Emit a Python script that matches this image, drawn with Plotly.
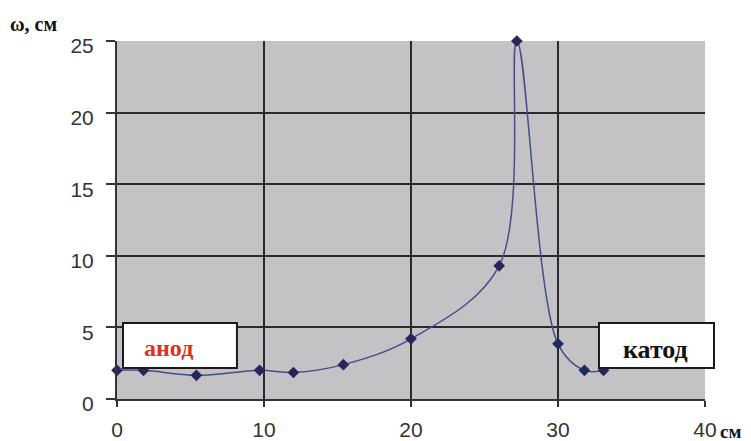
import plotly.graph_objects as go

# distance along electrode, cm
x_cm = [0, 1.8, 5.4, 9.7, 12.0, 15.4, 20.0, 26.0, 27.2, 30.0, 31.8, 33.1]
# omega, cm
omega = [2.0, 2.0, 1.65, 2.0, 1.85, 2.4, 4.2, 9.3, 25.0, 3.85, 2.0, 2.0]

x_ticks = [0, 10, 20, 30, 40]
y_ticks = [0, 5, 10, 15, 20, 25]

fig = go.Figure()
fig.add_trace(go.Scatter(
    x=x_cm, y=omega, mode="lines+markers",
    line=dict(color="#4b4b8c", width=1.5, shape="spline", smoothing=1.0),
    marker=dict(symbol="diamond", size=9, color="#26265e"),
    cliponaxis=False, showlegend=False,
))

fig.update_layout(
    width=751, height=441,
    margin=dict(l=117, r=46, t=41, b=42),
    paper_bgcolor="white", plot_bgcolor="#c3c3c6",
    font=dict(family="Liberation Sans, Arial", size=21, color="#333333"),
)
fig.update_xaxes(
    range=[0, 40], tickvals=x_ticks, showgrid=True, gridcolor="#2a2a2a", gridwidth=1.5,
    zeroline=False, showline=True, linecolor="#333333", linewidth=2, automargin=False,
    ticks="outside", ticklen=6, tickwidth=1.5, tickcolor="#333333",
    ticklabelstandoff=5, tickfont=dict(size=21, color="#333333"),
)
fig.update_yaxes(
    range=[0, 25], tickvals=y_ticks, showgrid=True, gridcolor="#2a2a2a", gridwidth=1.5,
    zeroline=False, showline=True, linecolor="#333333", linewidth=2, automargin=False,
    ticks="outside", ticklen=9, tickwidth=1.5, tickcolor="#333333",
    ticklabelstandoff=8, ticklabelshift=5, tickfont=dict(size=21, color="#333333"),
)

# boxes
fig.add_shape(type="rect", xref="paper", yref="paper", x0=0.0102, x1=0.204, y0=0.0866, y1=0.2123,
              fillcolor="white", line=dict(color="#1a1a1a", width=2), layer="above")
fig.add_shape(type="rect", xref="paper", yref="paper", x0=0.8197, x1=1.0153, y0=0.0866, y1=0.2123,
              fillcolor="white", line=dict(color="#1a1a1a", width=2), layer="above")

serif = "Liberation Serif, Times New Roman"
fig.add_annotation(xref="paper", yref="paper", x=0.0884, y=0.1425, xanchor="center", yanchor="middle",
                   text="<b>анод</b>", showarrow=False,
                   font=dict(family=serif, size=24, color="#e0301e"))
fig.add_annotation(xref="paper", yref="paper", x=0.915, y=0.137, xanchor="center", yanchor="middle",
                   text="<b>катод</b>", showarrow=False,
                   font=dict(family=serif, size=26, color="#111111"))
fig.add_annotation(xref="paper", yref="paper", x=-0.185, y=1.047, xanchor="left", yanchor="middle",
                   text="<b>ω, см</b>", showarrow=False,
                   font=dict(family=serif, size=20, color="#111111"))
fig.add_annotation(xref="paper", yref="paper", x=1.022, y=-0.092, xanchor="left", yanchor="middle",
                   text="<b>см</b>", showarrow=False,
                   font=dict(family=serif, size=19, color="#111111"))

fig.write_html("out.html")
